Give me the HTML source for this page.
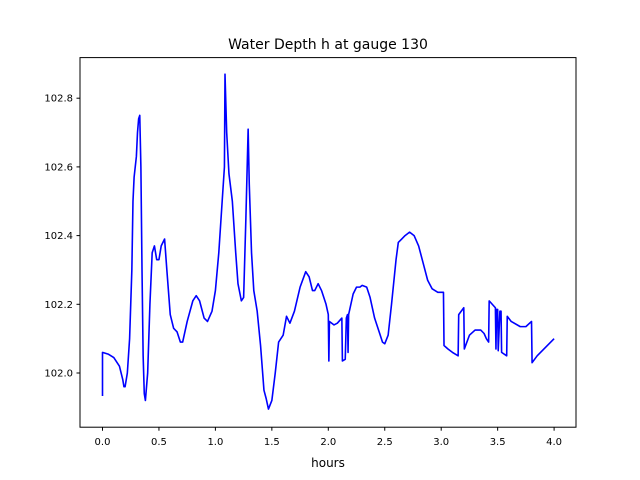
<!DOCTYPE html>
<html><head><meta charset="utf-8"><style>
body{margin:0;background:#fff;}
svg{display:block;font-family:"DejaVu Sans","Liberation Sans",sans-serif;}
</style></head><body>
<svg id="chart" width="640" height="480">
<rect width="640" height="480" fill="#fff"/>
<text x="328" y="49" font-size="14" text-anchor="middle">Water Depth h at gauge 130</text>
<text x="328" y="467" font-size="12" text-anchor="middle">hours</text>
<g id="ticks"></g>
<path id="line" fill="none" stroke="#0000ff" stroke-width="1.6" stroke-linejoin="round"/>
<rect x="80" y="57.6" width="496" height="369.6" fill="none" stroke="#000" stroke-width="1"/>
</svg>
<script>
const hours=[0,0,0.05,0.1,0.15,0.18,0.19,0.2,0.22,0.24,0.26,0.27,0.28,0.3,0.31,0.32,0.33,0.34,0.35,0.36,0.37,0.38,0.4,0.42,0.44,0.46,0.48,0.5,0.52,0.55,0.57,0.6,0.63,0.66,0.69,0.71,0.75,0.8,0.83,0.86,0.9,0.93,0.97,1.0,1.03,1.06,1.08,1.085,1.1,1.12,1.15,1.18,1.2,1.23,1.25,1.27,1.29,1.3,1.32,1.34,1.37,1.4,1.43,1.45,1.46,1.47,1.5,1.53,1.56,1.6,1.63,1.66,1.7,1.75,1.8,1.83,1.86,1.88,1.91,1.94,1.98,2.0,2.005,2.01,2.05,2.08,2.12,2.125,2.15,2.16,2.17,2.175,2.18,2.22,2.25,2.28,2.3,2.34,2.37,2.41,2.45,2.48,2.5,2.53,2.56,2.6,2.62,2.65,2.68,2.72,2.76,2.8,2.84,2.88,2.92,2.97,3.02,3.025,3.06,3.1,3.15,3.155,3.2,3.205,3.25,3.3,3.35,3.38,3.4,3.42,3.425,3.48,3.485,3.49,3.5,3.505,3.52,3.53,3.535,3.58,3.585,3.62,3.7,3.75,3.8,3.805,3.85,4.0];
const depth=[101.933,102.06,102.055,102.045,102.02,101.98,101.96,101.96,102.0,102.1,102.3,102.5,102.57,102.63,102.7,102.74,102.75,102.6,102.3,102.05,101.94,101.92,102.0,102.2,102.35,102.37,102.33,102.33,102.37,102.39,102.3,102.17,102.13,102.12,102.09,102.09,102.15,102.21,102.225,102.21,102.16,102.15,102.18,102.24,102.35,102.5,102.6,102.87,102.7,102.58,102.5,102.35,102.26,102.21,102.22,102.45,102.71,102.55,102.35,102.24,102.18,102.08,101.95,101.925,101.91,101.895,101.92,102.0,102.09,102.11,102.165,102.145,102.18,102.25,102.295,102.28,102.24,102.24,102.26,102.24,102.2,102.17,102.035,102.15,102.14,102.145,102.16,102.035,102.04,102.16,102.17,102.06,102.17,102.23,102.25,102.25,102.255,102.25,102.22,102.16,102.12,102.09,102.085,102.11,102.2,102.33,102.38,102.39,102.4,102.41,102.4,102.37,102.32,102.27,102.245,102.235,102.235,102.08,102.07,102.06,102.05,102.17,102.19,102.07,102.11,102.125,102.125,102.115,102.1,102.09,102.21,102.19,102.07,102.185,102.185,102.065,102.18,102.18,102.06,102.05,102.165,102.15,102.135,102.135,102.15,102.03,102.05,102.1];
const xTicks=[0,0.5,1,1.5,2,2.5,3,3.5,4];
const yTicks=[102.0,102.2,102.4,102.6,102.8];
const sx=h=>102.5+h*112.9;
const sy=v=>373-(v-102)*343.5;
const NS="http://www.w3.org/2000/svg";
const g=document.getElementById('ticks');
function mk(t,a){const e=document.createElementNS(NS,t);for(const k in a)e.setAttribute(k,a[k]);return e;}
xTicks.forEach(t=>{
  const l=mk('line',{x1:sx(t),x2:sx(t),y1:427.2,y2:430.7,stroke:'#000'});
  
  
  g.appendChild(l);
  const tx=mk('text',{x:sx(t),y:445,'font-size':10,'text-anchor':'middle'});
  
  
  tx.textContent=t.toFixed(1);g.appendChild(tx);
});
yTicks.forEach(t=>{
  const l=mk('line',{x1:76.5,x2:80,y1:sy(t),y2:sy(t),stroke:'#000'});
  
  
  g.appendChild(l);
  const tx=mk('text',{x:73,y:sy(t)+3.5,'font-size':10,'text-anchor':'end'});
  
  
  tx.textContent=t.toFixed(1);g.appendChild(tx);
});
document.getElementById('line').setAttribute('d',hours.map((h,i)=>(i?'L':'M')+sx(h).toFixed(2)+','+sy(depth[i]).toFixed(2)).join(''));
</script>
</body></html>
